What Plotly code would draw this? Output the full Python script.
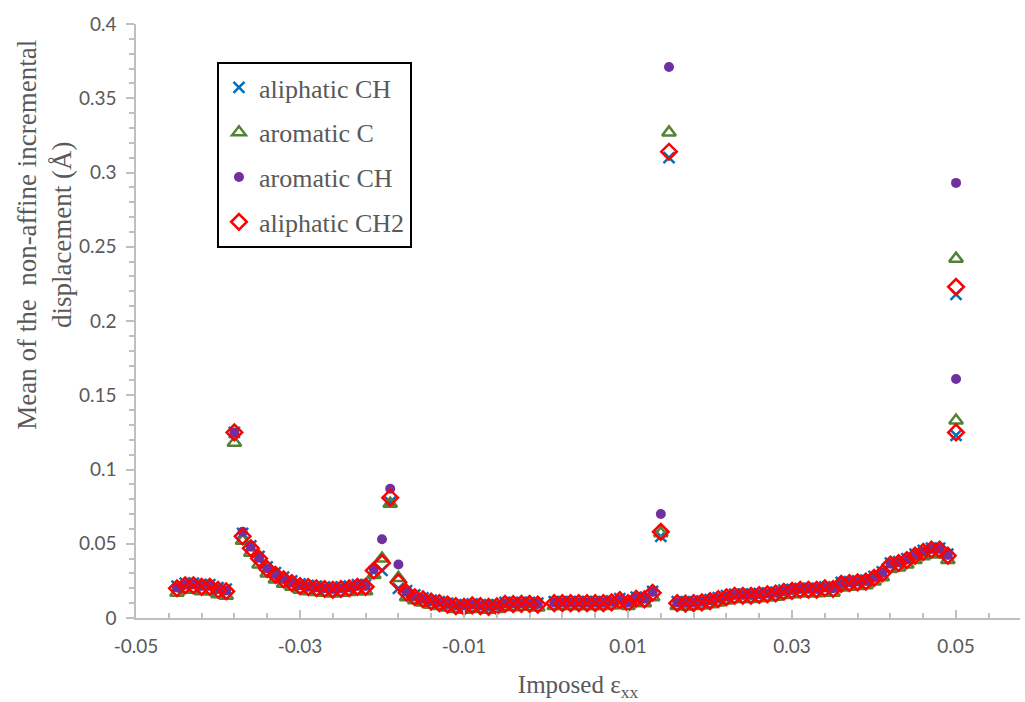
import plotly.graph_objects as go

# Imposed strain values (x)
strain = [
    -0.045, -0.044, -0.043, -0.042, -0.041, -0.040, -0.039, -0.038, -0.037, -0.036,
    -0.035, -0.034, -0.033, -0.032, -0.031, -0.030, -0.029, -0.028, -0.027, -0.026,
    -0.025, -0.024, -0.023, -0.022, -0.021, -0.020, -0.019, -0.018, -0.017, -0.016,
    -0.015, -0.014, -0.013, -0.012, -0.011, -0.010, -0.009, -0.008, -0.007, -0.006,
    -0.005, -0.004, -0.003, -0.002, -0.001,
    0.001, 0.002, 0.003, 0.004, 0.005, 0.006, 0.007, 0.008, 0.009, 0.010,
    0.011, 0.012, 0.013, 0.014, 0.015, 0.016, 0.017, 0.018, 0.019, 0.020,
    0.021, 0.022, 0.023, 0.024, 0.025, 0.026, 0.027, 0.028, 0.029, 0.030,
    0.031, 0.032, 0.033, 0.034, 0.035, 0.036, 0.037, 0.038, 0.039, 0.040,
    0.041, 0.042, 0.043, 0.044, 0.045, 0.046, 0.047, 0.048, 0.049, 0.050, 0.050,
]

aliphatic_CH = [
    0.0215, 0.0235, 0.0235, 0.0225, 0.0225, 0.0205, 0.0195, 0.125, 0.057, 0.0485,
    0.0415, 0.0345, 0.0305, 0.0275, 0.025, 0.023, 0.022, 0.0215, 0.021, 0.0205,
    0.021, 0.0215, 0.0225, 0.0225, 0.031, 0.032, 0.078, 0.020, 0.0185, 0.0155,
    0.0135, 0.012, 0.011, 0.010, 0.009, 0.0085, 0.0095, 0.009, 0.0085, 0.009,
    0.0105, 0.0103, 0.0105, 0.0105, 0.010,
    0.011, 0.011, 0.011, 0.011, 0.011, 0.011, 0.011, 0.0115, 0.013, 0.011,
    0.014, 0.0135, 0.018, 0.055, 0.310, 0.011, 0.0107, 0.011, 0.0115, 0.0124,
    0.0137, 0.015, 0.016, 0.016, 0.016, 0.0165, 0.017, 0.0175, 0.0187, 0.0193,
    0.020, 0.020, 0.020, 0.021, 0.0205, 0.024, 0.0245, 0.025, 0.0255, 0.028,
    0.031, 0.037, 0.038, 0.040, 0.043, 0.0455, 0.047, 0.047, 0.043, 0.218, 0.123,
]

aromatic_C = [
    0.017, 0.019, 0.019, 0.018, 0.018, 0.016, 0.015, 0.118, 0.052, 0.044,
    0.036, 0.030, 0.026, 0.023, 0.021, 0.019, 0.018, 0.0175, 0.017, 0.0165,
    0.017, 0.0175, 0.018, 0.018, 0.029, 0.040, 0.077, 0.027, 0.014, 0.012,
    0.0105, 0.009, 0.008, 0.007, 0.006, 0.0055, 0.0065, 0.006, 0.0055, 0.006,
    0.0075, 0.0073, 0.0075, 0.0075, 0.007,
    0.008, 0.008, 0.008, 0.008, 0.008, 0.008, 0.008, 0.0085, 0.0095, 0.008,
    0.0105, 0.010, 0.014, 0.057, 0.327, 0.008, 0.0077, 0.008, 0.0085, 0.0093,
    0.0105, 0.0118, 0.0128, 0.0128, 0.0128, 0.0133, 0.0138, 0.0143, 0.0155, 0.016,
    0.0167, 0.0167, 0.0167, 0.0175, 0.017, 0.0205, 0.021, 0.0215, 0.022, 0.0245,
    0.0275, 0.033, 0.034, 0.036, 0.039, 0.0415, 0.043, 0.043, 0.039, 0.242, 0.133,
]

aromatic_CH = [
    0.0205, 0.0225, 0.0225, 0.0215, 0.0215, 0.0195, 0.0185, 0.125, 0.058, 0.048,
    0.0405, 0.0335, 0.0295, 0.0265, 0.024, 0.022, 0.021, 0.0205, 0.020, 0.0195,
    0.020, 0.0205, 0.0215, 0.0215, 0.033, 0.053, 0.087, 0.036, 0.0175, 0.0145,
    0.013, 0.0115, 0.0105, 0.0095, 0.0085, 0.008, 0.009, 0.0085, 0.008, 0.0083,
    0.010, 0.0098, 0.010, 0.010, 0.0095,
    0.0105, 0.0105, 0.0105, 0.0105, 0.0105, 0.0105, 0.0105, 0.011, 0.0125, 0.0105,
    0.0135, 0.013, 0.0175, 0.070, 0.371, 0.0105, 0.0102, 0.0105, 0.011, 0.0119,
    0.0132, 0.0145, 0.0155, 0.0155, 0.0155, 0.016, 0.0165, 0.017, 0.0182, 0.0188,
    0.0195, 0.0195, 0.0195, 0.0205, 0.020, 0.0235, 0.024, 0.0245, 0.025, 0.0275,
    0.0305, 0.0365, 0.0375, 0.0395, 0.0425, 0.045, 0.0465, 0.0465, 0.0425, 0.293, 0.161,
]

aliphatic_CH2 = [
    0.020, 0.022, 0.022, 0.021, 0.021, 0.019, 0.018, 0.125, 0.055, 0.047,
    0.040, 0.033, 0.029, 0.026, 0.0235, 0.0215, 0.0208, 0.020, 0.0195, 0.019,
    0.0195, 0.020, 0.021, 0.021, 0.032, 0.037, 0.081, 0.024, 0.017, 0.014,
    0.0125, 0.011, 0.010, 0.009, 0.008, 0.0075, 0.0085, 0.008, 0.0075, 0.0078,
    0.0095, 0.0093, 0.0095, 0.0095, 0.009,
    0.010, 0.010, 0.010, 0.010, 0.010, 0.010, 0.010, 0.0105, 0.012, 0.010,
    0.013, 0.0125, 0.017, 0.058, 0.314, 0.010, 0.0097, 0.010, 0.0105, 0.0114,
    0.0127, 0.014, 0.015, 0.015, 0.015, 0.0155, 0.016, 0.0165, 0.0177, 0.0183,
    0.019, 0.019, 0.019, 0.020, 0.0195, 0.023, 0.0235, 0.024, 0.0245, 0.027,
    0.030, 0.036, 0.037, 0.039, 0.042, 0.0445, 0.046, 0.046, 0.042, 0.223, 0.125,
]

x_tickvals = [-0.05, -0.03, -0.01, 0.01, 0.03, 0.05]
x_ticktext = ["-0.05", "-0.03", "-0.01", "0.01", "0.03", "0.05"]
y_tickvals = [0, 0.05, 0.1, 0.15, 0.2, 0.25, 0.3, 0.35, 0.4]
y_ticktext = ["0", "0.05", "0.1", "0.15", "0.2", "0.25", "0.3", "0.35", "0.4"]

GRAY_TXT = "#595959"
AXIS = "#bfbfbf"
SERIF = "Liberation Serif, DejaVu Serif, serif"
SANS = "Lato, Open Sans, sans-serif"

fig = go.Figure()

series = [
    ("aliphatic CH", aliphatic_CH, dict(symbol="x-thin-open", size=11, color="#0070C0",
                                        line=dict(color="#0070C0", width=2.5))),
    ("aromatic C", aromatic_C, dict(symbol="triangle-up-open", size=12, color="#548235",
                                    line=dict(color="#548235", width=2.5))),
    ("aromatic CH", aromatic_CH, dict(symbol="circle", size=10, color="#7030A0",
                                      line=dict(width=0))),
    ("aliphatic CH2", aliphatic_CH2, dict(symbol="diamond-open", size=12, color="#FF0000",
                                          line=dict(color="#FF0000", width=2.5))),
]
for name, ys, mk in series:
    fig.add_trace(go.Scatter(x=strain, y=ys, mode="markers", name=name,
                             legendgroup=name, marker=mk))

fig.update_layout(
    width=1025, height=702,
    margin=dict(l=136, r=5, t=24, b=84),
    paper_bgcolor="white", plot_bgcolor="white",
    showlegend=True,
    legend=dict(x=0.0916, y=0.936, xanchor="left", yanchor="top",
                bordercolor="black", borderwidth=2, bgcolor="white",
                font=dict(family=SERIF, size=26, color=GRAY_TXT),
                tracegroupgap=8, itemwidth=30),
    xaxis=dict(range=[-0.05, 0.0578], tickvals=x_tickvals, ticktext=x_ticktext,
               showgrid=False, zeroline=False, showline=True, linecolor=AXIS, linewidth=1.5,
               ticks="inside", ticklen=8, tickcolor=AXIS, tickwidth=1.5,
               minor=dict(tick0=-0.05, dtick=0.004, ticks="inside", ticklen=5,
                          tickcolor=AXIS, tickwidth=1.5, showgrid=False),
               tickfont=dict(family=SANS, size=19, color=GRAY_TXT),
               ticklabelstandoff=10,
               title=dict(text="Imposed ε<sub>xx</sub>",
                          font=dict(family=SERIF, size=25, color=GRAY_TXT), standoff=20)),
    yaxis=dict(range=[0, 0.4], tickvals=y_tickvals, ticktext=y_ticktext,
               showgrid=False, zeroline=False, showline=True, linecolor=AXIS, linewidth=1.5,
               ticks="outside", ticklen=8, tickcolor=AXIS, tickwidth=1.5,
               minor=dict(tick0=0, dtick=0.01, ticks="outside", ticklen=5,
                          tickcolor=AXIS, tickwidth=1.5, showgrid=False),
               tickfont=dict(family=SANS, size=19, color=GRAY_TXT),
               ticklabelstandoff=6),
)

fig.add_annotation(
    text="Mean of the  non-affine incremental<br>displacement (Å)",
    xref="paper", yref="paper", x=-0.103, y=0.645, xanchor="center", yanchor="middle",
    textangle=-90, showarrow=False,
    font=dict(family=SERIF, size=27, color=GRAY_TXT),
)

fig.write_html("out.html")
